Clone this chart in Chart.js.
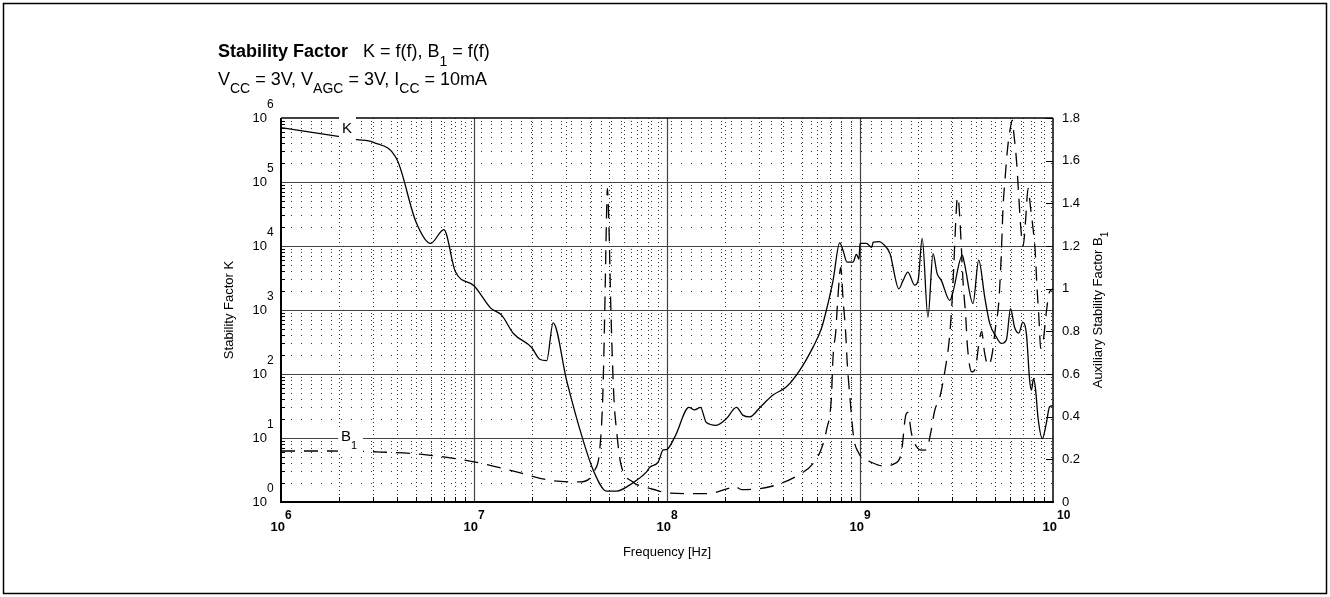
<!DOCTYPE html>
<html>
<head>
<script src="https://cdn.jsdelivr.net/npm/chart.js@4.4.0/dist/chart.umd.min.js"></script>
<style>
body{margin:0;background:#fff;}
</style>
<script>
// stability factor K (frequency in Hz)
var kFreq = [1.00e6, 2.02e6, 2.47e6, 2.99e6, 4.0e6, 5.0e6, 5.96e6, 6.98e6, 8.0e6, 1.0e7,
  1.22e7, 1.39e7, 1.60e7, 1.99e7, 2.19e7, 2.38e7, 2.57e7, 3.02e7, 3.68e7, 4.14e7,
  4.86e7, 5.47e7, 6.67e7, 7.83e7, 8.15e7, 9.0e7, 9.55e7, 9.94e7, 1.10e8, 1.30e8,
  1.39e8, 1.49e8, 1.60e8, 1.80e8, 2.03e8, 2.29e8, 2.48e8, 2.69e8, 3.03e8, 3.54e8,
  4.16e8, 4.88e8, 5.71e8, 6.31e8, 6.70e8, 7.25e8, 7.85e8, 8.17e8, 8.57e8, 9.20e8,
  9.58e8, 9.88e8, 1.00e9, 1.08e9, 1.15e9, 1.17e9, 1.26e9, 1.32e9, 1.43e9, 1.59e9,
  1.67e9, 1.77e9, 1.92e9, 2.00e9, 2.10e9, 2.25e9, 2.39e9, 2.51e9, 2.64e9, 2.92e9,
  3.03e9, 3.39e9, 3.48e9, 3.85e9, 4.12e9, 4.43e9, 4.70e9, 5.08e9, 5.40e9, 5.73e9,
  6.03e9, 6.32e9, 6.65e9, 6.98e9, 7.28e9, 7.57e9, 7.73e9, 7.93e9, 8.13e9, 8.36e9,
  8.81e9, 9.23e9, 9.59e9, 1.0e10];
var kValue = [7.1e5, 5.1e5, 4.6e5, 4.2e5, 2.2e5, 2.4e4, 1.1e4, 1.8e4, 4.0e3, 2.4e3,
  1070, 830, 430, 260, 170, 162, 630, 79, 9.1, 3.2,
  1.48, 1.48, 2.0, 2.95, 3.5, 4.2, 6.5, 6.6, 10.5, 30,
  27.5, 30, 17.4, 15.8, 20, 30, 22.6, 21.4, 30, 47,
  63, 115, 263, 513, 1000, 2880, 11200, 8500, 5600, 5600,
  7400, 6200, 11000, 11000, 9500, 11500, 11700, 10700, 7600, 2140,
  2880, 3900, 2450, 2880, 13200, 776, 7600, 3700, 2880, 1410,
  1900, 7160, 5250, 1260, 6030, 1580, 617, 380, 300, 340,
  1050, 537, 436, 646, 427, 79, 56, 85, 56, 21,
  9.8, 16.8, 30.5, 32];

// auxiliary stability factor B1 (right axis)
var b1Freq = [1.00e6, 1.80e6, 3.13e6, 5.25e6, 1.0e7, 1.66e7, 2.47e7, 3.53e7, 4.22e7, 4.48e7,
  4.65e7, 4.76e7, 4.85e7, 4.91e7, 5.0e7, 5.12e7, 5.30e7, 5.50e7, 5.76e7, 6.65e7,
  7.67e7, 8.85e7, 1.0e8, 1.61e8, 2.11e8, 2.24e8, 2.44e8, 3.53e8, 4.88e8, 5.71e8,
  6.31e8, 6.70e8, 7.11e8, 7.25e8, 7.49e8, 7.67e8, 7.95e8, 8.17e8, 8.42e8, 8.59e8,
  8.85e8, 9.28e8, 9.77e8, 1.02e9, 1.12e9, 1.32e9, 1.51e9, 1.64e9, 1.72e9, 1.77e9,
  1.85e9, 1.96e9, 2.08e9, 2.21e9, 2.32e9, 2.44e9, 2.59e9, 2.76e9, 2.90e9, 2.99e9,
  3.06e9, 3.11e9, 3.17e9, 3.22e9, 3.28e9, 3.34e9, 3.42e9, 3.53e9, 3.61e9, 3.79e9,
  3.97e9, 4.14e9, 4.27e9, 4.42e9, 4.61e9, 4.81e9, 5.04e9, 5.23e9, 5.39e9, 5.51e9,
  5.65e9, 5.82e9, 6.03e9, 6.15e9, 6.28e9, 6.47e9, 6.63e9, 6.79e9, 7.0e9, 7.21e9,
  7.43e9, 7.65e9, 7.84e9, 8.08e9, 8.27e9, 8.47e9, 8.63e9, 8.89e9, 9.21e9, 9.55e9,
  1.0e10];
var b1Value = [0.239, 0.239, 0.235, 0.224, 0.188, 0.141, 0.102, 0.094, 0.149, 0.243,
  0.5, 0.9, 1.3, 1.47, 1.3, 0.9, 0.5, 0.32, 0.18, 0.094,
  0.07, 0.055, 0.042, 0.039, 0.066, 0.074, 0.058, 0.075, 0.13, 0.18,
  0.25, 0.336, 0.49, 0.68, 0.80, 0.95, 1.10, 0.95, 0.80, 0.65,
  0.50, 0.30, 0.235, 0.21, 0.19, 0.169, 0.18, 0.235, 0.40, 0.42,
  0.32, 0.26, 0.243, 0.245, 0.32, 0.43, 0.49, 0.62, 0.76, 0.92,
  1.1, 1.25, 1.40, 1.43, 1.35, 1.22, 1.03, 0.87, 0.72, 0.61,
  0.63, 0.75, 0.80, 0.70, 0.64, 0.68, 0.82, 0.93, 1.15, 1.38,
  1.52, 1.66, 1.76, 1.79, 1.72, 1.60, 1.45, 1.30, 1.20, 1.32,
  1.47, 1.38, 1.30, 1.18, 1.00, 0.85, 0.72, 0.75, 0.88, 0.98,
  1.0];

var freqDecades = [1e6, 1e7, 1e8, 1e9, 1e10];
var kDecades = [1, 10, 100, 1e3, 1e4, 1e5, 1e6];
var b1Ticks = [0, 0.2, 0.4, 0.6, 0.8, 1, 1.2, 1.4, 1.6, 1.8];
var b1TickLabels = ['0', '0.2', '0.4', '0.6', '0.8', '1', '1.2', '1.4', '1.6', '1.8'];
</script>
</head>
<body>

<canvas id="myChart" width="1330" height="597"></canvas>

<script>
var FONT = '"Liberation Sans", Arial, Helvetica, sans-serif';

function pairs(xs, ys){
  var out = [];
  for (var i = 0; i < xs.length; i++) out.push({x: xs[i], y: ys[i]});
  return out;
}

// minor decade values 2..9 x 10^n between two decades
function minors(lo, hi){
  var out = [];
  for (var d = lo; d < hi; d *= 10)
    for (var m = 2; m <= 9; m++) out.push(m * d);
  return out;
}

function line(ctx, x1, y1, x2, y2){
  ctx.beginPath(); ctx.moveTo(x1, y1); ctx.lineTo(x2, y2); ctx.stroke();
}

// draw text pieces one after another, each [text, font, dy]
function rich(ctx, x, y, parts){
  for (var i = 0; i < parts.length; i++){
    ctx.font = parts[i][1];
    ctx.fillText(parts[i][0], x, y + parts[i][2]);
    x += ctx.measureText(parts[i][0]).width;
  }
  return x;
}
function richWidth(ctx, parts){
  var w = 0;
  for (var i = 0; i < parts.length; i++){ ctx.font = parts[i][1]; w += ctx.measureText(parts[i][0]).width; }
  return w;
}

var paper = {
  id: 'paper',
  beforeDatasetsDraw: function(chart){
    var ctx = chart.ctx, a = chart.chartArea;
    var sx = chart.scales.x, sy = chart.scales.y, sr = chart.scales.y1;
    ctx.save();
    ctx.lineWidth = 1;
    ctx.strokeStyle = '#333';
    // dotted minor grid
    ctx.setLineDash([1, 3]);
    minors(1e6, 1e10).forEach(function(v){
      var x = Math.round(sx.getPixelForValue(v)) + 0.5;
      line(ctx, x, a.top, x, a.bottom);
    });
    ctx.setLineDash([1, 9]);
    minors(1, 1e6).forEach(function(v){
      var y = Math.round(sy.getPixelForValue(v)) + 0.5;
      line(ctx, a.left, y, a.right, y);
    });
    ctx.setLineDash([]);
    // solid decade lines
    ctx.strokeStyle = '#444';
    ctx.lineWidth = 1.2;
    freqDecades.slice(1, -1).forEach(function(v){
      var x = Math.round(sx.getPixelForValue(v)) + 0.5;
      line(ctx, x, a.top, x, a.bottom);
    });
    kDecades.slice(1, -1).forEach(function(v){
      var y = Math.round(sy.getPixelForValue(v)) + 0.5;
      line(ctx, a.left, y, a.right, y);
    });
    // tick marks
    ctx.strokeStyle = '#000';
    ctx.lineWidth = 1;
    minors(1e6, 1e10).forEach(function(v){
      var x = Math.round(sx.getPixelForValue(v)) + 0.5;
      line(ctx, x, a.bottom, x, a.bottom - 5);
    });
    minors(1, 1e6).forEach(function(v){
      var y = Math.round(sy.getPixelForValue(v)) + 0.5;
      line(ctx, a.left, y, a.left + 4, y);
    });
    b1Ticks.forEach(function(v){
      var y = Math.round(sr.getPixelForValue(v)) + 0.5;
      line(ctx, a.right, y, a.right - 7, y);
    });
    // frame of the plot
    ctx.lineWidth = 1.5;
    line(ctx, a.left, a.top, a.right, a.top);
    line(ctx, a.right, a.top, a.right, a.bottom);
    ctx.lineWidth = 2;
    line(ctx, a.left, a.top, a.left, a.bottom + 1);
    line(ctx, a.left - 1, a.bottom, a.right + 1, a.bottom);
    ctx.restore();
  },
  afterDatasetsDraw: function(chart){
    var ctx = chart.ctx;
    ctx.save();
    ctx.fillStyle = '#fff';
    ctx.fillRect(339, 116, 17, 26);
    ctx.fillRect(338, 427, 25, 27);
    ctx.fillStyle = '#000';
    ctx.textBaseline = 'middle';
    ctx.textAlign = 'left';
    ctx.font = '15px ' + FONT;
    ctx.fillText('K', 342, 129);
    rich(ctx, 341, 437, [['B', '15px ' + FONT, 0], ['1', '11px ' + FONT, 9]]);
    ctx.restore();
  },
  afterDraw: function(chart){
    var ctx = chart.ctx, a = chart.chartArea;
    var sx = chart.scales.x, sy = chart.scales.y, sr = chart.scales.y1;
    ctx.save();
    ctx.fillStyle = '#000';
    ctx.textBaseline = 'middle';
    // left tick labels 10^n
    kDecades.forEach(function(v, i){
      var y = sy.getPixelForValue(v);
      ctx.textAlign = 'right';
      ctx.font = '13px ' + FONT;
      ctx.fillText('10', a.left - 14, y);
      ctx.textAlign = 'left';
      ctx.font = '12px ' + FONT;
      ctx.fillText(String(i), a.left - 14, y - 13);
    });
    // bottom tick labels 10^n
    freqDecades.forEach(function(v, i){
      var x = sx.getPixelForValue(v);
      ctx.textAlign = 'right';
      ctx.font = 'bold 13px ' + FONT;
      ctx.fillText('10', x + 4, a.bottom + 25);
      ctx.textAlign = 'left';
      ctx.font = 'bold 12px ' + FONT;
      ctx.fillText(String(6 + i), x + 4, a.bottom + 14);
    });
    // right tick labels
    ctx.textAlign = 'left';
    ctx.font = '13px ' + FONT;
    b1Ticks.forEach(function(v, i){
      ctx.fillText(b1TickLabels[i], a.right + 9, sr.getPixelForValue(v));
    });
    // axis titles
    ctx.textAlign = 'center';
    ctx.fillText('Frequency [Hz]', (a.left + a.right) / 2, a.bottom + 50);
    var mid = (a.top + a.bottom) / 2;
    ctx.save();
    ctx.translate(229, mid);
    ctx.rotate(-Math.PI / 2);
    ctx.fillText('Stability Factor K', 0, 0);
    ctx.restore();
    ctx.save();
    ctx.translate(1098, mid);
    ctx.rotate(-Math.PI / 2);
    ctx.textAlign = 'left';
    var rp = [['Auxiliary Stability Factor B', '13px ' + FONT, 0], ['1', '10px ' + FONT, 7]];
    rich(ctx, -richWidth(ctx, rp) / 2, 0, rp);
    ctx.restore();
    // heading
    ctx.textAlign = 'left';
    ctx.textBaseline = 'alphabetic';
    var big = '18px ' + FONT, sub = '14px ' + FONT;
    var x = rich(ctx, 218, 57, [['Stability Factor', 'bold 18px ' + FONT, 0]]);
    rich(ctx, x, 57, [['   K = f(f), B', big, 0], ['1', sub, 9], [' = f(f)', big, 0]]);
    rich(ctx, 218, 85, [['V', big, 0], ['CC', sub, 8], [' = 3V, V', big, 0], ['AGC', sub, 8],
      [' = 3V, I', big, 0], ['CC', sub, 8], [' = 10mA', big, 0]]);
    // outer frame
    ctx.strokeStyle = '#000';
    ctx.lineWidth = 1.5;
    ctx.strokeRect(3.5, 3.5, 1323, 590);
    ctx.restore();
  }
};

new Chart("myChart", {
  type: "line",
  data: {
    datasets: [{
      data: pairs(kFreq, kValue),
      yAxisID: 'y',
      borderColor: '#000',
      borderWidth: 1.3,
      pointRadius: 0,
      cubicInterpolationMode: 'monotone',
      fill: false
    }, {
      data: pairs(b1Freq, b1Value),
      yAxisID: 'y1',
      borderColor: '#000',
      borderWidth: 1.3,
      borderDash: [14, 9],
      pointRadius: 0,
      cubicInterpolationMode: 'monotone',
      fill: false
    }]
  },
  options: {
    responsive: false,
    animation: false,
    devicePixelRatio: 1,
    layout: {padding: {top: 118, left: 0, right: 0, bottom: 0}},
    plugins: {legend: {display: false}, tooltip: {enabled: false}},
    scales: {
      x: {
        type: 'logarithmic', min: 1e6, max: 1e10, position: 'bottom',
        grid: {display: false}, border: {display: false}, ticks: {display: false},
        afterFit: function(s){ s.height = 95; }
      },
      y: {
        type: 'logarithmic', min: 1, max: 1e6, position: 'left',
        grid: {display: false}, border: {display: false}, ticks: {display: false},
        afterFit: function(s){ s.width = 281; }
      },
      y1: {
        type: 'linear', min: 0, max: 1.8, position: 'right',
        grid: {display: false}, border: {display: false}, ticks: {display: false},
        afterFit: function(s){ s.width = 277; }
      }
    }
  },
  plugins: [paper]
});
</script>

</body>
</html>
